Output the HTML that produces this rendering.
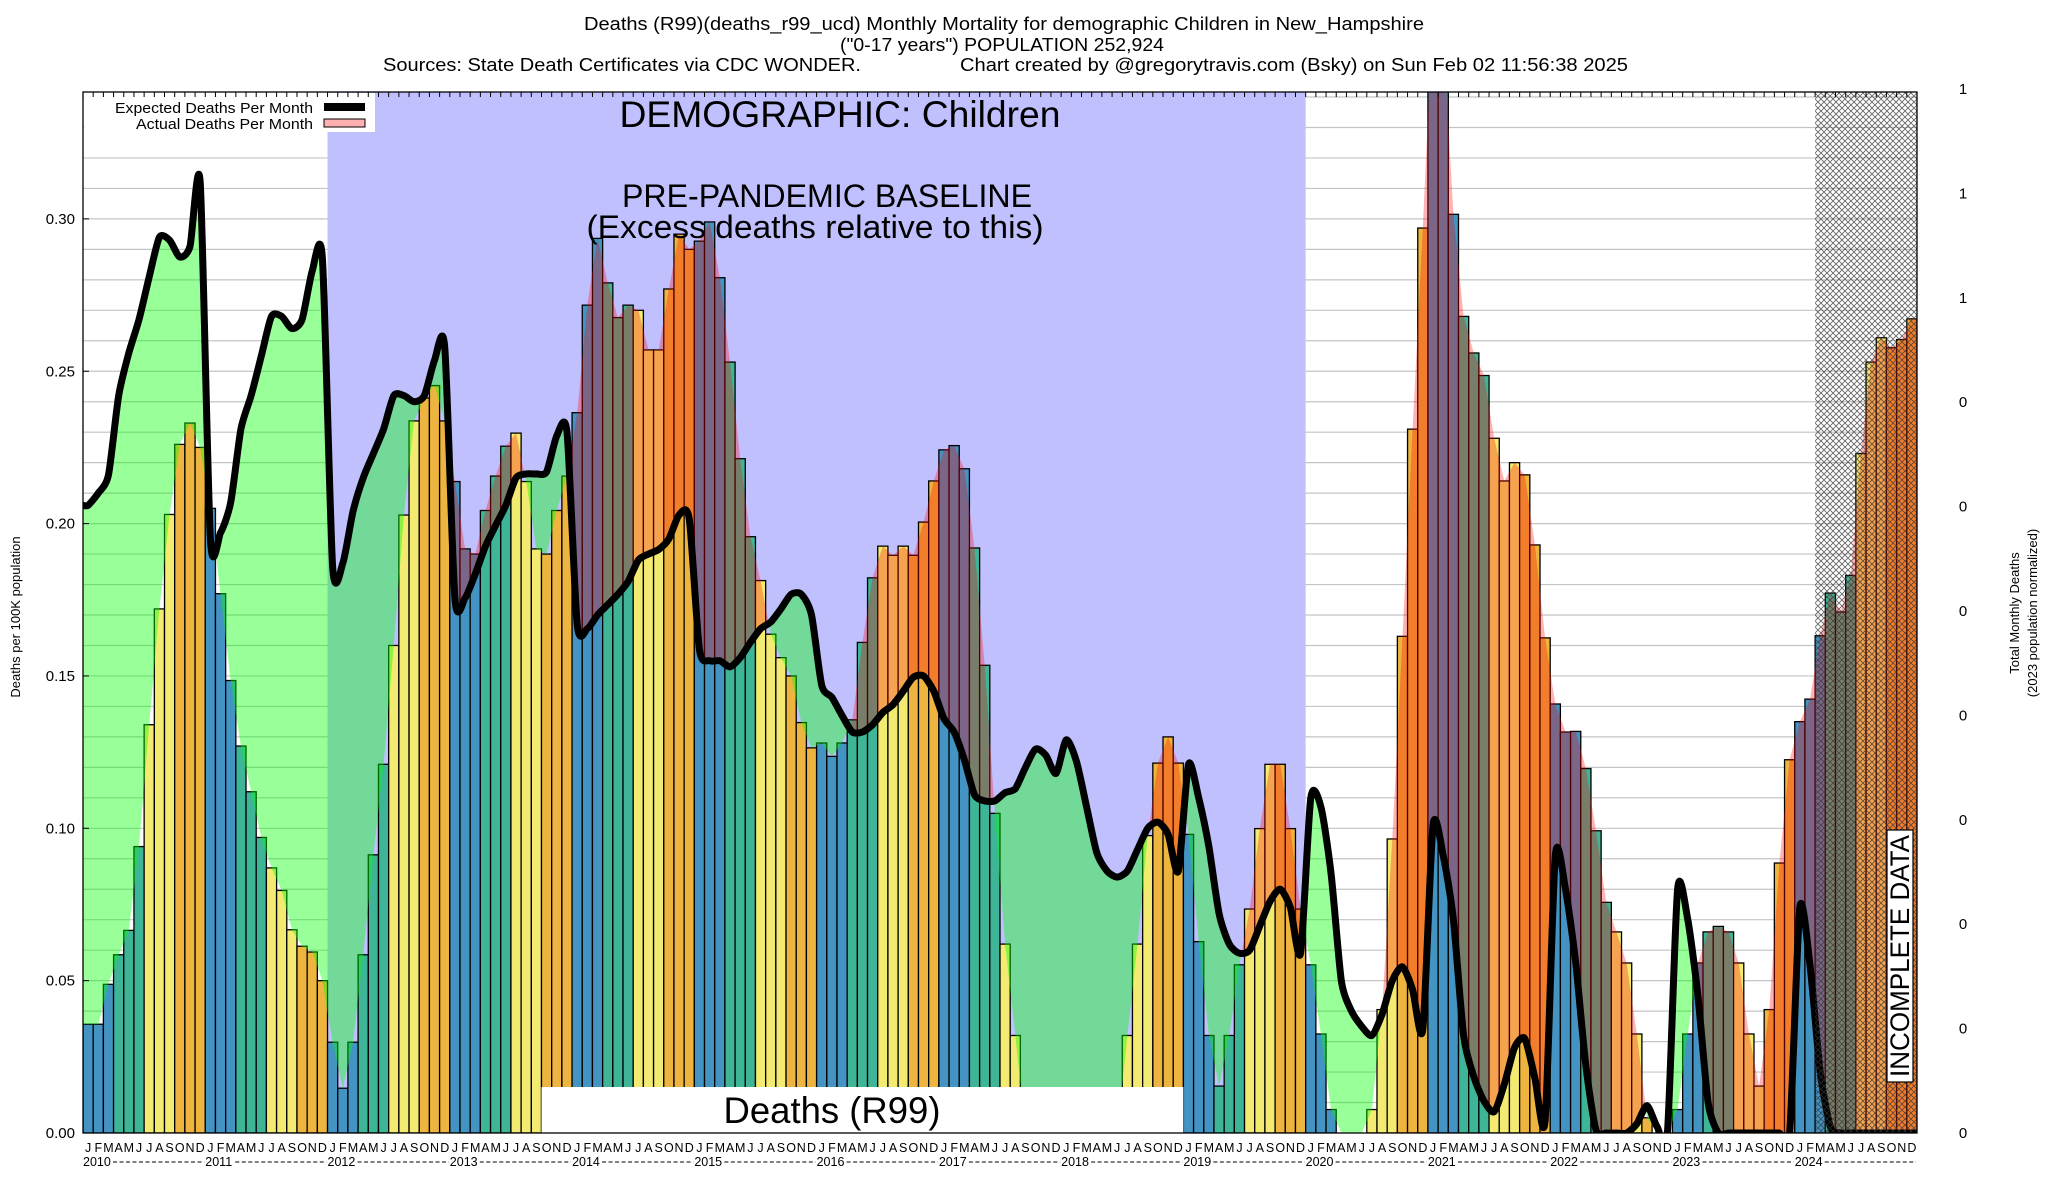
<!DOCTYPE html>
<html><head><meta charset="utf-8">
<style>
html,body{margin:0;padding:0;background:#fff;}
svg{display:block;font-family:"Liberation Sans",Arial,sans-serif;}
</style></head>
<body>
<svg id="chart" width="2048" height="1200" viewBox="0 0 2048 1200" xmlns="http://www.w3.org/2000/svg">
<defs>
  <pattern id="hatch" width="6" height="6" patternUnits="userSpaceOnUse">
    <path d="M0,0 L6,6 M6,0 L0,6" stroke="#333" stroke-width="0.9" fill="none"/>
  </pattern>
  <clipPath id="plotClip"><rect x="83" y="92" width="1834" height="1041"/></clipPath>
  <clipPath id="aboveActual"><path id="aboveActualPath" d=""/></clipPath>
  <clipPath id="aboveExpected"><path id="aboveExpectedPath" d=""/></clipPath>
</defs>
<g font-size="18" text-anchor="middle" fill="#000">
  <text x="1004" y="30" textLength="840" lengthAdjust="spacingAndGlyphs">Deaths (R99)(deaths_r99_ucd) Monthly Mortality for demographic Children in New_Hampshire</text>
  <text x="1002" y="51" textLength="324" lengthAdjust="spacingAndGlyphs">("0-17 years") POPULATION 252,924</text>
  <text x="622" y="71" textLength="478" lengthAdjust="spacingAndGlyphs">Sources: State Death Certificates via CDC WONDER.</text>
  <text x="1294" y="71" textLength="668" lengthAdjust="spacingAndGlyphs">Chart created by @gregorytravis.com (Bsky) on Sun Feb 02 11:56:38 2025</text>
</g>
<g id="plot"></g>
<g id="axes"></g>
</svg>
<script>
const monthLetters = ['J','F','M','A','M','J','J','A','S','O','N','D'];
const yearLabels = [2010,2011,2012,2013,2014,2015,2016,2017,2018,2019,2020,2021,2022,2023,2024];
const yTickLabels = ['0.00','0.05','0.10','0.15','0.20','0.25','0.30'];
const yTickValues = [0,0.05,0.10,0.15,0.20,0.25,0.30];
const rightTickLabels = ['0','0','0','0','0','0','0','0','1','1','1'];
const actualDeaths = [
0.0357,0.0357,0.0488,0.0585,0.0665,0.094,0.134,0.172,0.203,0.226,0.233,0.225,
0.205,0.177,0.1485,0.127,0.112,0.097,0.087,0.0796,0.0667,0.0613,0.0594,0.05,
0.0298,0.0147,0.0298,0.0585,0.0913,0.121,0.16,0.2028,0.2337,0.2412,0.2453,0.2337,
0.2138,0.1917,0.19,0.2043,0.2156,0.2254,0.2297,0.2138,0.1917,0.19,0.2043,0.2156,
0.2364,0.2717,0.2936,0.279,0.2676,0.2717,0.27,0.257,0.257,0.277,0.295,0.29,
0.2927,0.299,0.2807,0.253,0.2213,0.1957,0.1813,0.1637,0.156,0.15,0.1347,0.1264,
0.128,0.1236,0.128,0.1356,0.161,0.1822,0.1926,0.1896,0.1926,0.1896,0.2005,0.214,
0.2242,0.2256,0.218,0.192,0.1535,0.1049,0.062,0.032,0,0,0,0,
0,0,0,0,0,0,0.032,0.062,0.0976,0.1214,0.13,0.1214,
0.098,0.0628,0.032,0.0154,0.032,0.0552,0.0735,0.0999,0.121,0.121,0.0999,0.0735,
0.0552,0.0325,0.0077,0,0,0,0.0077,0.0405,0.0965,0.163,0.231,0.297,
0.37,0.36,0.3015,0.268,0.256,0.2486,0.228,0.214,0.22,0.216,0.193,0.1625,
0.1408,0.1316,0.1318,0.1196,0.0992,0.0757,0.066,0.0558,0.0325,0.005,0,0,
0.0077,0.0325,0.0558,0.066,0.0678,0.066,0.0558,0.0325,0.0154,0.0405,0.0886,0.1225,
0.135,0.1424,0.1632,0.1772,0.171,0.183,0.223,0.253,0.261,0.2577,0.2604,0.2672];
const expectedDeaths = [
0.206,0.21,0.216,0.242,0.256,0.267,0.281,0.294,0.293,0.2875,0.291,0.312,
0.195,0.197,0.207,0.231,0.242,0.255,0.268,0.268,0.264,0.267,0.283,0.287,
0.186,0.187,0.204,0.215,0.223,0.231,0.242,0.242,0.24,0.242,0.2536,0.258,
0.1756,0.1756,0.1835,0.1926,0.1994,0.206,0.215,0.2163,0.2163,0.217,0.2288,0.23,
0.167,0.1655,0.17,0.1734,0.1768,0.181,0.188,0.19,0.1915,0.195,0.2028,0.2016,
0.1587,0.155,0.155,0.153,0.156,0.161,0.1655,0.1677,0.172,0.1768,0.1768,0.17,
0.147,0.143,0.137,0.1316,0.1316,0.134,0.138,0.1406,0.145,0.1496,0.15,0.145,
0.136,0.1316,0.1225,0.111,0.109,0.109,0.1117,0.113,0.12,0.126,0.124,0.118,
0.129,0.122,0.107,0.092,0.086,0.084,0.086,0.093,0.1,0.102,0.098,0.086,
0.121,0.11,0.094,0.072,0.062,0.059,0.06,0.068,0.076,0.08,0.074,0.059,
0.11,0.107,0.085,0.05,0.04,0.035,0.032,0.039,0.05,0.0545,0.047,0.034,
0.101,0.091,0.07,0.032,0.0185,0.0105,0.007,0.016,0.028,0.031,0.018,0.004,
0.091,0.08,0.056,0.022,0.001,0,0,0,0.003,0.009,0.002,0,
0.08,0.07,0.045,0.01,0,0,0,0,0,0,0,0,
0.074,0.055,0.02,0.002,0,0,0,0,0,0,0,0];
const baselineStartMonth = 24, baselineEndMonth = 120;
const incompleteStartMonth = 170;
const boxStartMonth = 45, boxEndMonth = 108;

const NS='http://www.w3.org/2000/svg';
const X0=83, X1=1917, Y0=1133, YTOP=92;
const N=actualDeaths.length;
const W=(X1-X0)/N;
const K=3047;
function xAt(m){return X0+m*W;}
function xc(i){return X0+(i+0.5)*W;}
function yv(v){return Y0-v*K;}
function mk(tag,attrs,parent){const e=document.createElementNS(NS,tag);for(const k in attrs)e.setAttribute(k,attrs[k]);parent.appendChild(e);return e;}
const plot=document.getElementById('plot');
const axes=document.getElementById('axes');
const clipG=mk('g',{'clip-path':'url(#plotClip)'},plot);



let r=mk('rect',{x:X0,y:YTOP,width:X1-X0,height:Y0-YTOP,fill:'#fff'},clipG);


for(let k=1;k<=34;k++){
  const g=mk('line',{x1:X0,x2:X1,y1:yv(k/100),y2:yv(k/100),stroke:'#c4c4c4','stroke-width':1.2},clipG);
  
  
}
r=mk('rect',{x:xAt(baselineStartMonth),y:YTOP,width:xAt(baselineEndMonth)-xAt(baselineStartMonth),height:Y0-YTOP,fill:'#c0c0ff'},clipG);



const seasonColors=['#4393c3','#4393c3','#4393c3','#3fb598','#3fb598','#3fb598','#f3ea72','#f3ea72','#f3ea72','#edb53f','#edb53f','#edb53f'];
for(let i=0;i<N;i++){
  const v=actualDeaths[i]; if(v<=0) continue;
  const b=mk('rect',{x:xAt(i),y:yv(v),width:W,height:v*K,fill:seasonColors[i%12],stroke:'#000','stroke-width':1.3},clipG);
  
  
}

const aPts=[[X0,yv(actualDeaths[0])]];
for(let i=0;i<N;i++) aPts.push([xc(i),yv(actualDeaths[i])]);
aPts.push([X1,yv(actualDeaths[N-1])]);
const ePts=[[X0,yv(expectedDeaths[0])]];
for(let i=0;i<N;i++) ePts.push([xc(i),yv(expectedDeaths[i])]);
ePts.push([X1,yv(expectedDeaths[N-1])]);
function smooth(p){
  let d='M'+p[0][0].toFixed(1)+','+p[0][1].toFixed(1);
  for(let i=0;i<p.length-1;i++){
    const p0=p[Math.max(0,i-1)],p1=p[i],p2=p[i+1],p3=p[Math.min(p.length-1,i+2)];
    const t=0.12;
    const c1x=p1[0]+(p2[0]-p0[0])*t, c1y=p1[1]+(p2[1]-p0[1])*t;
    const c2x=p2[0]-(p3[0]-p1[0])*t, c2y=p2[1]-(p3[1]-p1[1])*t;
    d+=' C'+c1x.toFixed(1)+','+c1y.toFixed(1)+' '+c2x.toFixed(1)+','+c2y.toFixed(1)+' '+p2[0].toFixed(1)+','+p2[1].toFixed(1);
  }
  return d;
}
const eD=smooth(ePts);
const aD='M'+aPts.map(p=>p[0].toFixed(1)+','+p[1].toFixed(1)).join(' L');
document.getElementById('aboveActualPath').setAttribute('d',aD+' L'+X1+',0 L'+X0+',0 Z');
document.getElementById('aboveExpectedPath').setAttribute('d',eD+' L'+X1+',0 L'+X0+',0 Z');

const green=mk('path',{d:eD+' L'+X1+','+Y0+' L'+X0+','+Y0+' Z',fill:'rgba(0,255,0,0.4)','clip-path':'url(#aboveActual)'},clipG);


const red=mk('path',{d:aD+' L'+X1+','+Y0+' L'+X0+','+Y0+' Z',fill:'rgba(255,0,0,0.3)','clip-path':'url(#aboveExpected)'},clipG);



const line=mk('path',{d:eD,fill:'none',stroke:'#000','stroke-width':7,'stroke-linejoin':'round','stroke-linecap':'round'},clipG);



r=mk('rect',{x:xAt(incompleteStartMonth),y:YTOP,width:X1-xAt(incompleteStartMonth),height:Y0-YTOP,fill:'url(#hatch)',opacity:0.75},clipG);



r=mk('rect',{x:xAt(boxStartMonth),y:1087,width:xAt(boxEndMonth)-xAt(boxStartMonth),height:Y0-1087,fill:'#fff'},clipG);


let t=mk('text',{x:832,y:1123,'font-size':37,'text-anchor':'middle',textLength:217,lengthAdjust:'spacingAndGlyphs'},clipG);
t.textContent='Deaths (R99)';



t=mk('text',{x:840,y:127,'font-size':37,'text-anchor':'middle',textLength:441,lengthAdjust:'spacingAndGlyphs'},clipG);
t.textContent='DEMOGRAPHIC: Children';


t=mk('text',{x:827,y:207,'font-size':32,'text-anchor':'middle',textLength:410,lengthAdjust:'spacingAndGlyphs'},clipG);
t.textContent='PRE-PANDEMIC BASELINE';


t=mk('text',{x:815,y:238,'font-size':32,'text-anchor':'middle',textLength:457,lengthAdjust:'spacingAndGlyphs'},clipG);
t.textContent='(Excess deaths relative to this)';



r=mk('rect',{x:1887,y:830,width:26,height:252,fill:'#fff',stroke:'#000','stroke-width':1.2},plot);


t=mk('text',{x:0,y:0,'font-size':27,'text-anchor':'middle',transform:'translate(1909,956) rotate(-90)',textLength:242,lengthAdjust:'spacingAndGlyphs'},plot);
t.textContent='INCOMPLETE DATA';



r=mk('rect',{x:X0+1,y:YTOP+1,width:291,height:39,fill:'#fff'},plot);


t=mk('text',{x:313,y:113,'font-size':15,'text-anchor':'end',textLength:198,lengthAdjust:'spacingAndGlyphs'},plot);
t.textContent='Expected Deaths Per Month';


r=mk('rect',{x:324,y:103,width:41,height:8,fill:'#000'},plot);


t=mk('text',{x:313,y:129,'font-size':15,'text-anchor':'end',textLength:177,lengthAdjust:'spacingAndGlyphs'},plot);
t.textContent='Actual Deaths Per Month';


r=mk('rect',{x:324,y:119,width:41,height:8,fill:'#ffb0b0',stroke:'#000','stroke-width':1},plot);



r=mk('rect',{x:X0,y:YTOP,width:X1-X0,height:Y0-YTOP,fill:'none',stroke:'#000','stroke-width':1.3},axes);


for(let i=0;i<=N;i++){
  const tk=mk('line',{x1:xAt(i),x2:xAt(i),y1:YTOP,y2:YTOP+5,stroke:'#000','stroke-width':1},axes);
  
  
}
for(let k=0;k<yTickValues.length;k++){
  const y=yv(yTickValues[k]);
  const tk=mk('line',{x1:X0,x2:X0+6,y1:y,y2:y,stroke:'#000','stroke-width':1},axes);
  
  
  const tl=mk('text',{x:75,y:y+5,'font-size':15,'text-anchor':'end'},axes);
  tl.textContent=yTickLabels[k];
  
  
}
for(let k=0;k<rightTickLabels.length;k++){
  const y=Y0-k*104.4;
  const tl=mk('text',{x:1963,y:y+5,'font-size':15,'text-anchor':'middle'},axes);
  tl.textContent=rightTickLabels[k];
  
  
}
for(let i=0;i<N;i++){
  const ml=mk('text',{x:xc(i),y:1152,'font-size':12.5,'text-anchor':'middle'},axes);
  ml.textContent=monthLetters[i%12];
  
  
}
for(let k=0;k<yearLabels.length;k++){
  const x=xAt(k*12);
  const yl=mk('text',{x:x,y:1166,'font-size':12.5},axes);
  yl.textContent=String(yearLabels[k]);
  
  
  const ds=mk('line',{x1:x+30,x2:xAt(k*12+12)-1,y1:1162,y2:1162,stroke:'#000','stroke-width':1,'stroke-dasharray':'4,2.5'},axes);
  
  
}
t=mk('text',{x:0,y:0,'font-size':13,'text-anchor':'middle',transform:'translate(20,617) rotate(-90)'},axes);
t.textContent='Deaths per 100K population';


t=mk('text',{x:0,y:0,'font-size':13,'text-anchor':'middle',transform:'translate(2019,613) rotate(-90)'},axes);
t.textContent='Total Monthly Deaths';


t=mk('text',{x:0,y:0,'font-size':13,'text-anchor':'middle',transform:'translate(2037,613) rotate(-90)'},axes);
t.textContent='(2023 population normalized)';


</script>
</body></html>
